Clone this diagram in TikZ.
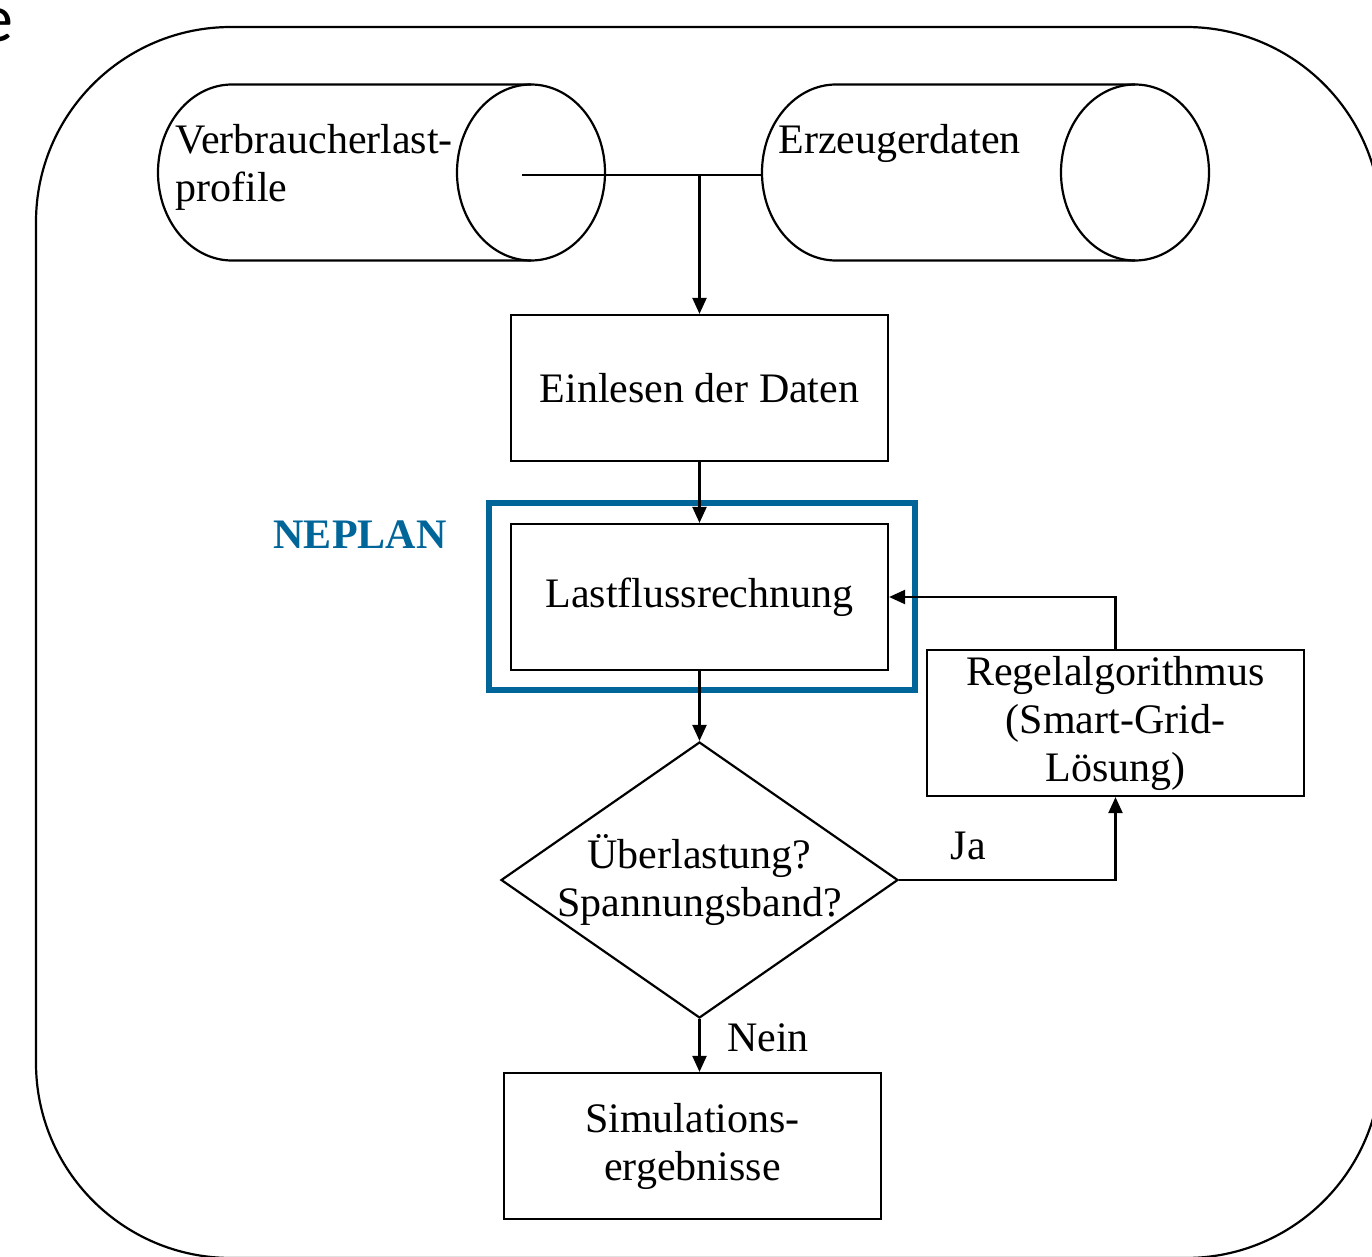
\documentclass[tikz,border=0pt]{standalone}
\usepackage{fontspec}
\setmainfont{Liberation Serif}
\newfontfamily\slidefont{Carlito}
\usetikzlibrary{shapes.geometric,arrows.meta}
\definecolor{neplanblue}{RGB}{0,102,153}

\begin{document}
\begin{tikzpicture}[x=0.5pt,y=-0.5pt,
    every node/.style={font=\fontsize{21}{24}\selectfont},
    box/.style={draw,line width=1.1pt,minimum width=188.5pt,minimum height=73pt,inner sep=0pt,align=center},
    flow/.style={line width=1.1pt,-{Triangle[width=7pt,length=8pt]}}]
  \useasboundingbox (0,0) rectangle (1372,1257);
  \def\rx{74}
  \def\ry{88}
  % slide background
  \node[anchor=base east,inner sep=0pt,font=\slidefont\fontsize{34}{40}\selectfont] (cut) at (14,42) {e};
  \draw[line width=1.1pt,rounded corners=97.5pt] (36,27) rectangle (1381,1258);

  % data sources
  \draw[line width=1.1pt] (531,172.5-\ry)--(232,172.5-\ry) arc[start angle=-90,end angle=-270,x radius=\rx,y radius=\ry]--(531,172.5+\ry);
  \draw[line width=1.1pt] (531,172.5) ellipse[x radius=\rx,y radius=\ry];
  \draw[line width=1.1pt] (1135,172.5-\ry)--(836,172.5-\ry) arc[start angle=-90,end angle=-270,x radius=\rx,y radius=\ry]--(1135,172.5+\ry);
  \draw[line width=1.1pt] (1135,172.5) ellipse[x radius=\rx,y radius=\ry];
  \node[anchor=north west,inner sep=0pt,align=left] (cyl1txt) at (175,124) {Verbraucherlast-\\profile};
  \node[anchor=north west,inner sep=0pt,align=left] (cyl2txt) at (778,124) {Erzeugerdaten};
  \coordinate (tap) at (522,175);
  \coordinate (cyl2in) at (836-\rx,175);

  % flow
  \node[box] (einlesen) at (699.5,388) {Einlesen der Daten};
  \node[box] (lastfluss) at (699.5,597) {Lastflussrechnung};
  \node[draw=neplanblue,line width=2.6pt,minimum width=213pt,minimum height=93.5pt] (neplanbox) at (702,596.5) {};
  \node[text=neplanblue,font=\bfseries\fontsize{21}{24}\selectfont] (neplan) at (360,535) {NEPLAN};
  \node[diamond,draw,line width=1.1pt,minimum width=198.5pt,minimum height=138pt,inner sep=0pt] (check) at (699.5,880) {};
  \node[align=center,inner sep=0pt] (checktxt) at (check) {Überlastung?\\Spannungsband?};
  \node[box] (regel) at (1115.5,723) {Regelalgorithmus\\(Smart-Grid-\\Lösung)};
  \node[box] (sim) at (692.5,1146) {Simulations-\\ergebnisse};

  \draw[line width=1.1pt] (tap) -- (cyl2in);
  \draw[flow] (einlesen.north |- tap) -- (einlesen.north);
  \draw[flow] (einlesen) -- (lastfluss);
  \draw[flow] (lastfluss) -- (check);
  \draw[flow] (check.east) -| node[pos=0.16,above=6pt] (ja) {Ja} (regel.south);
  \draw[flow] (regel.north) |- (lastfluss.east);
  \draw[flow] (check.south) -- node[pos=0.35,right=10pt] (nein) {Nein} (check.south |- sim.north);
\end{tikzpicture}
\end{document}
